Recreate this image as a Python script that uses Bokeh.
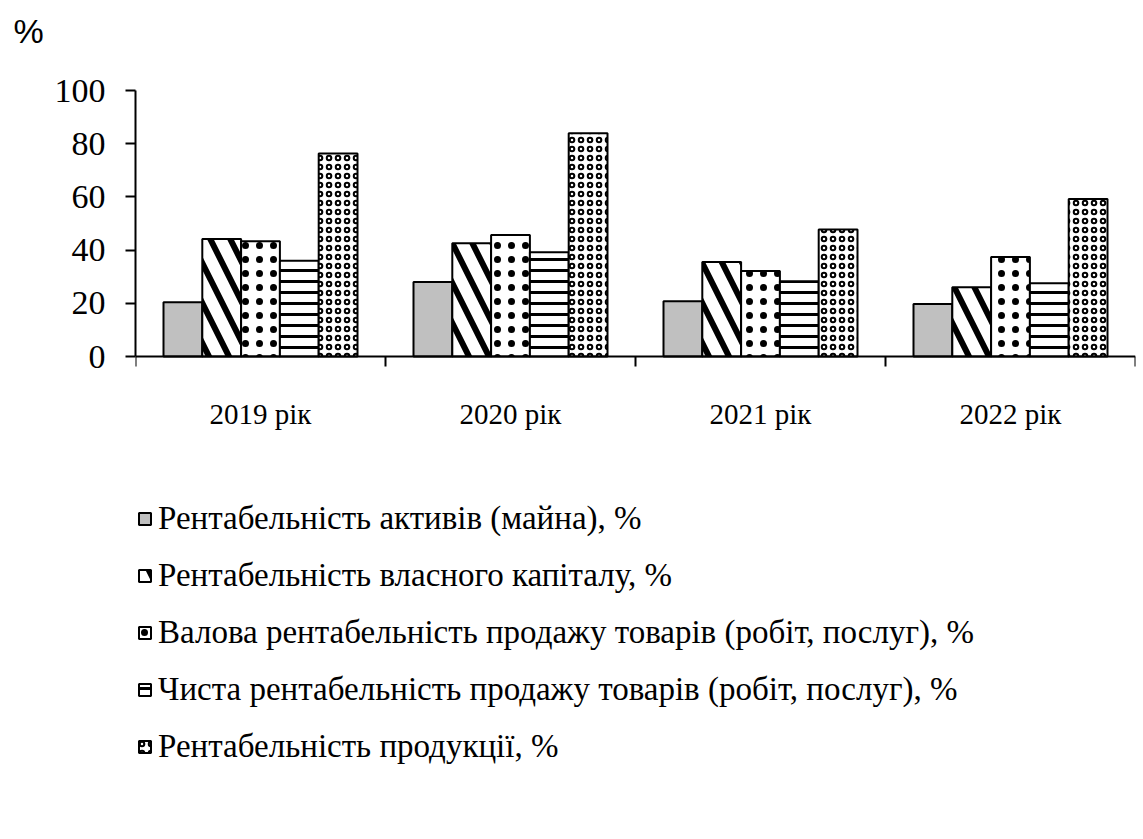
from bokeh.plotting import figure
from bokeh.models import (ColumnDataSource, Range1d, FixedTicker, Legend, LegendItem, Title)
from bokeh.embed import file_html
from bokeh.resources import INLINE

years = ["2019 рік", "2020 рік", "2021 рік", "2022 рік"]
series_names = [
    "Рентабельність активів (майна), %",
    "Рентабельність власного капіталу, %",
    "Валова рентабельність продажу товарів (робіт, послуг), %",
    "Чиста рентабельність продажу товарів (робіт, послуг), %",
    "Рентабельність продукції, %",
]
roa = [20.4, 28.0, 20.8, 19.7]
roe = [44.2, 42.6, 35.5, 26.0]
gross = [43.3, 45.7, 32.1, 37.4]
net = [36.0, 39.2, 28.3, 27.5]
product = [76.3, 83.9, 47.7, 59.2]
values = [roa, roe, gross, net, product]

styles = [
    dict(fill_color="#c0c0c0"),
    dict(fill_color="white", hatch_pattern="\\", hatch_scale=40, hatch_weight=6),
    dict(fill_color="white", hatch_pattern=".", hatch_scale=14, hatch_weight=1),
    dict(fill_color="white", hatch_pattern="-", hatch_scale=11, hatch_weight=3),
    dict(fill_color="white", hatch_pattern="o", hatch_scale=9, hatch_weight=2),
]

# geometry of the plot area (pixels)
FRAME_LEFT, FRAME_TOP = 135, 50
FRAME_W, FRAME_H = 1000, 715
PX_PER_Y = 2.66           # 100 % = 266 px
Y0_PX = 356 - FRAME_TOP   # where y = 0 lies in the frame (from top)
y_end = Y0_PX / PX_PER_Y
y_start = y_end - FRAME_H / PX_PER_Y

p = figure(frame_width=FRAME_W, frame_height=FRAME_H, output_backend="svg",
           toolbar_location=None,
           x_range=Range1d(0, len(years)), y_range=Range1d(y_start, y_end),
           min_border_left=FRAME_LEFT, min_border_right=8, min_border_top=FRAME_TOP,
           min_border_bottom=0)
p.xgrid.visible = False
p.ygrid.visible = False
p.outline_line_color = None
p.background_fill_color = "white"
p.border_fill_color = "white"

bar_w = 0.1552
renderers = []
for k, (name, vals, st) in enumerate(zip(series_names, values, styles)):
    xs = [i + 0.5 + (k - 2) * bar_w for i in range(len(years))]
    src = ColumnDataSource(dict(x=xs, top=vals))
    kw = dict(x="x", top="top", bottom=0, width=bar_w, source=src,
              line_color="black", line_width=2, fill_color=st["fill_color"])
    if "hatch_pattern" in st:
        kw.update(hatch_pattern=st["hatch_pattern"], hatch_color="black",
                  hatch_scale=st["hatch_scale"], hatch_weight=st["hatch_weight"])
    r = p.vbar(**kw)
    renderers.append(r)

# y axis
yax = p.yaxis[0]
yax.bounds = (0, 100)
yax.ticker = FixedTicker(ticks=[0, 20, 40, 60, 80, 100], minor_ticks=[])
yax.axis_line_width = 2
yax.axis_line_color = "black"
yax.major_tick_out = 10
yax.major_tick_in = 0
yax.major_tick_line_width = 2
yax.major_label_standoff = 20
yax.major_label_text_font = "Liberation Serif"
yax.major_label_text_font_size = "34px"
yax.major_label_text_color = "black"

# x axis, drawn at y = 0
xax = p.xaxis[0]
xax.fixed_location = 0
xax.ticker = FixedTicker(ticks=[0.5, 1.5, 2.5, 3.5], minor_ticks=[0, 1, 2, 3, 4])
xax.major_label_overrides = {0.5: years[0], 1.5: years[1], 2.5: years[2], 3.5: years[3]}
xax.axis_line_width = 2
xax.axis_line_color = "black"
xax.major_tick_out = 0
xax.major_tick_in = 0
xax.minor_tick_out = 10
xax.minor_tick_in = 0
xax.minor_tick_line_width = 2
xax.minor_tick_line_color = "black"
xax.major_label_standoff = 31
xax.major_label_text_font = "Liberation Serif"
xax.major_label_text_font_size = "29px"
xax.major_label_text_color = "black"

legend = Legend(
    items=[LegendItem(label=n, renderers=[r]) for n, r in zip(series_names, renderers)],
    location=(2, 0), orientation="vertical",
    label_text_font="Liberation Serif", label_text_font_size="33px",
    label_text_color="black", glyph_width=15, glyph_height=15,
    label_height=36, spacing=20, padding=0, margin=0, label_standoff=6,
    border_line_color=None, background_fill_alpha=0,
)
p.add_layout(legend, "center")

p.title = Title(text="%", align="left", offset=13 - FRAME_LEFT, standoff=2,
                text_font="Liberation Sans", text_font_size="34px",
                text_font_style="normal", text_color="black")

open("out.html", "w").write(file_html(p, INLINE))
